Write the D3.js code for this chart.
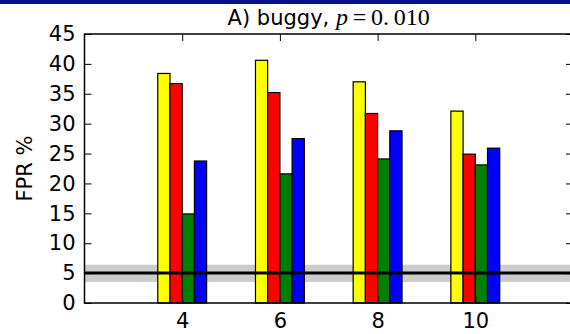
<!DOCTYPE html>
<html>
<head>
<meta charset="utf-8">
<script src="https://cdn.jsdelivr.net/npm/d3@7"></script>
<style>
  body { margin: 0; background: #fff; }
  svg { display: block; font-family: "DejaVu Sans", sans-serif; }
</style>
</head>
<body>
<div id="chart"></div>
<script>
// data
var groups = [4, 6, 8, 10];
var seriesColors = ["#ffff00", "#ff0000", "#008000", "#0000ff"];
var yellowVals = [38.4, 40.6, 37.0, 32.1];
var redVals = [36.7, 35.2, 31.7, 24.9];
var greenVals = [14.9, 21.6, 24.1, 23.1];
var blueVals = [23.75, 27.5, 28.8, 25.9];
var yTicks = [0, 5, 10, 15, 20, 25, 30, 35, 40, 45];
var nominal = 5;
var band = [3.5, 6.4];

var svgWidth = 570;
var svgHeight = 334;

var svg = d3.select("#chart").append("svg")
    .attr("width", svgWidth)
    .attr("height", svgHeight);

// slide header strip
svg.append("rect")
    .attr("x", 0).attr("y", 0)
    .attr("width", svgWidth).attr("height", 4)
    .attr("fill", "#06118f");

var x = d3.scaleLinear().domain([2, 12]).range([84.5, 573]);
var y = d3.scaleLinear().domain([0, 45]).range([303, 34]);

var barWidth = 0.25;
var series = [yellowVals, redVals, greenVals, blueVals];

// grey band behind bars
svg.append("rect")
    .attr("x", x(2))
    .attr("y", y(band[1]))
    .attr("width", x(12) - x(2))
    .attr("height", y(band[0]) - y(band[1]))
    .attr("fill", "#cccccc");

// bars
series.forEach(function (vals, s) {
    svg.selectAll(".bar" + s)
        .data(groups)
        .enter()
        .append("rect")
        .attr("class", "bar" + s)
        .attr("x", function (d) { return x(d - 0.5 + s * barWidth); })
        .attr("y", function (d, i) { return y(vals[i]); })
        .attr("width", x(2 + barWidth) - x(2))
        .attr("height", function (d, i) { return y(0) - y(vals[i]); })
        .attr("fill", seriesColors[s])
        .attr("stroke", "#000")
        .attr("stroke-width", 1.2);
});

// nominal 5% line
svg.append("line")
    .attr("x1", x(2)).attr("x2", x(12))
    .attr("y1", y(nominal)).attr("y2", y(nominal))
    .attr("stroke", "#000")
    .attr("stroke-width", 3);

// axes, ticks pointing inward
var axLeft = svg.append("g")
    .attr("transform", "translate(" + x(2) + ",0)")
    .call(d3.axisLeft(y).tickValues(yTicks).tickSizeInner(-7).tickSizeOuter(0).tickPadding(9));

var axRight = svg.append("g")
    .attr("transform", "translate(" + x(12) + ",0)")
    .call(d3.axisRight(y).tickValues(yTicks).tickSizeInner(-7).tickSizeOuter(0).tickFormat(""));

var axBottom = svg.append("g")
    .attr("transform", "translate(0," + y(0) + ")")
    .call(d3.axisBottom(x).tickValues(groups).tickSizeInner(-7).tickSizeOuter(0).tickPadding(10));

var axTop = svg.append("g")
    .attr("transform", "translate(0," + y(45) + ")")
    .call(d3.axisTop(x).tickValues(groups).tickSizeInner(-7).tickSizeOuter(0).tickFormat(""));

[axLeft, axRight, axBottom, axTop].forEach(function (g) {
    g.select(".domain").remove();
    g.selectAll(".tick line").attr("stroke", "#000").attr("stroke-width", 1);
    g.selectAll(".tick text")
        .attr("fill", "#000")
        .style("font-family", "DejaVu Sans")
        .style("font-size", "21px");
});

axBottom.selectAll(".tick text").attr("dy", "0.71em");

// frame
svg.append("rect")
    .attr("x", x(2)).attr("y", y(45))
    .attr("width", x(12) - x(2))
    .attr("height", y(0) - y(45))
    .attr("fill", "none")
    .attr("stroke", "#000")
    .attr("stroke-width", 1.5);

// y label
svg.append("text")
    .attr("transform", "translate(32," + ((y(0) + y(45)) / 2) + ") rotate(-90)")
    .attr("text-anchor", "middle")
    .style("font-size", "21px")
    .text("FPR %");

// title
var title = svg.append("text")
    .attr("x", (x(2) + 573) / 2)
    .attr("y", 25)
    .attr("text-anchor", "middle")
    .style("font-size", "21px");
title.append("tspan").text("A) buggy, ");
title.append("tspan")
    .style("font-family", "Liberation Serif")
    .style("font-style", "italic")
    .style("font-size", "24px")
    .text("p");
title.append("tspan")
    .style("font-family", "Liberation Serif")
    .style("font-size", "24px")
    .text("\u2009=\u20090.\u2009010");
</script>
</body>
</html>
